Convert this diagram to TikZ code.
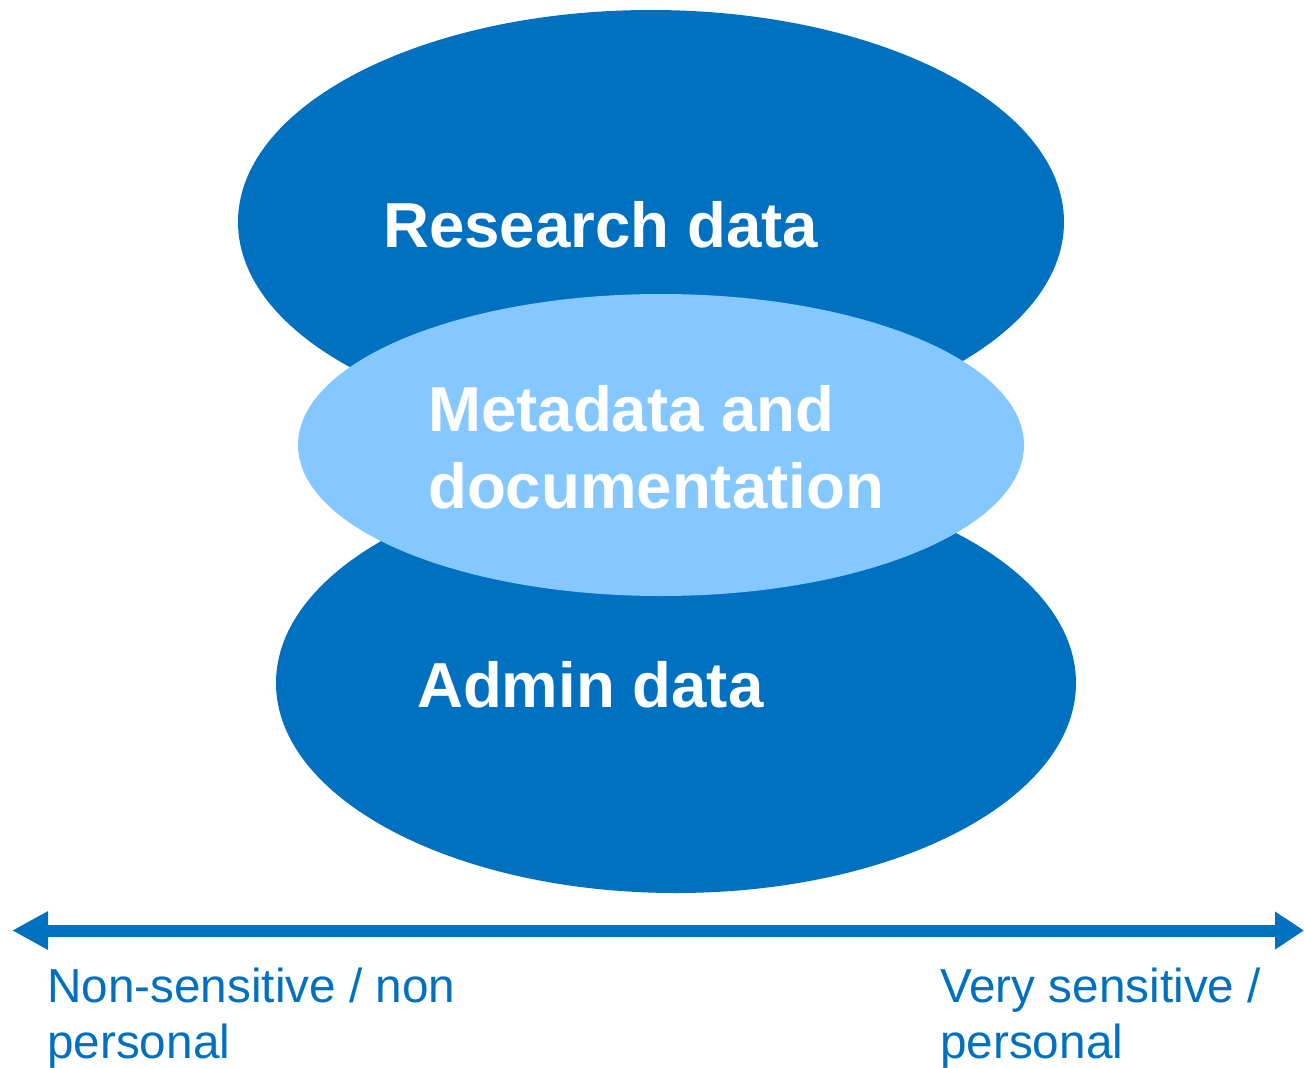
\documentclass[tikz,border=0pt]{standalone}
\usepackage{fontspec}
\setmainfont{Liberation Sans}
\usetikzlibrary{arrows.meta}
\definecolor{darkblue}{HTML}{0070C0}
\definecolor{lightblue}{HTML}{85C8FF}
\begin{document}
\begin{tikzpicture}[x=1pt,y=-1pt,
  title/.style={font=\fontsize{63.6}{77}\selectfont\bfseries, text=white, inner sep=0pt, anchor=base west, align=left},
  axislabel/.style={font=\fontsize{47.7}{56}\selectfont, text=darkblue, inner sep=0pt, anchor=base west, align=left}]
\useasboundingbox (0,0) rectangle (1304,1068);
\fill[white] (0,0) rectangle (1304,1068);
% ellipses
\fill[darkblue] (651,222) ellipse [x radius=413, y radius=212];
\fill[darkblue] (676,683) ellipse [x radius=400, y radius=210];
\fill[lightblue] (661,445) ellipse [x radius=363, y radius=151];
\coordinate (research) at (383,247);
\coordinate (meta) at (428,508);
\coordinate (admin) at (417,707);
\node[title] (rt) at (research) {Research data};
\node[title] (mt) at (meta) {Metadata and\\documentation};
\node[title] (at) at (admin) {Admin data};
% axis
\coordinate (la) at (12,930.5);
\coordinate (ra) at (1304,930.5);
\draw[darkblue, line width=12pt, {Triangle[length=36pt,width=36pt]}-{Triangle[length=29pt,width=36pt]}] (la) -- (ra);
\node[axislabel] (ll) at (47,1058) {Non-sensitive / non\\personal};
\node[axislabel] (rl) at (940,1058) {Very sensitive /\\personal};
\end{tikzpicture}
\end{document}
